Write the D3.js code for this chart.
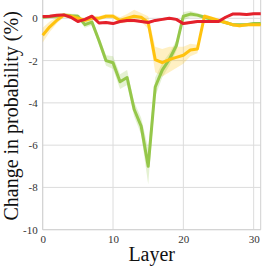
<!DOCTYPE html>
<html><head><meta charset="utf-8">
<script src="https://cdn.jsdelivr.net/npm/d3@7"></script>
<style>html,body{margin:0;padding:0;background:#fff;}svg{display:block;}</style>
</head><body>
<svg id="c" width="266" height="266"></svg>
<script>
const layers = d3.range(0, 32);
const greenVals = [0.05,0.08,0.1,0.15,0.12,0.1,-0.3,-0.18,-1.05,-2.0,-2.1,-3.0,-2.8,-4.3,-5.1,-7.0,-3.25,-2.45,-1.95,-1.3,0.1,0.2,0.15,0.05,-0.05,-0.12,-0.2,-0.3,-0.3,-0.3,-0.25,-0.25];
const greenErr  = [0.1,0.1,0.1,0.1,0.1,0.1,0.15,0.15,0.2,0.25,0.3,0.35,0.35,0.35,0.4,0.85,0.45,0.35,0.3,0.25,0.2,0.15,0.1,0.1,0.08,0.08,0.08,0.08,0.08,0.08,0.08,0.08];
const yellowVals = [-0.8,-0.4,-0.1,0.15,0.1,0.0,-0.1,0.0,0.0,0.1,0.1,-0.1,0.0,0.1,0.05,-0.2,-1.95,-2.1,-1.95,-1.85,-1.75,-1.5,-1.45,0.1,0.0,-0.1,-0.2,-0.3,-0.35,-0.3,-0.3,-0.3];
const yellowErr  = [0.35,0.25,0.15,0.1,0.1,0.1,0.1,0.1,0.1,0.1,0.1,0.15,0.2,0.3,0.2,0.3,0.6,0.65,0.6,0.5,0.4,0.3,0.2,0.1,0.08,0.08,0.08,0.08,0.08,0.08,0.08,0.08];
const redVals = [0.08,0.1,0.14,0.16,0.05,-0.15,-0.05,0.1,-0.22,-0.2,-0.25,-0.15,-0.1,-0.1,-0.15,-0.2,-0.1,-0.05,0.0,-0.05,-0.25,-0.2,-0.15,-0.15,-0.15,-0.15,0.05,0.2,0.2,0.18,0.22,0.22];
const redErr = layers.map(()=>0.06);
const xTicks = [0,10,20,30];
const yTicks = [0,-2,-4,-6,-8,-10];

const series = [
  {vals: greenVals, err: greenErr, color: "#95c74a"},
  {vals: yellowVals, err: yellowErr, color: "#ffc20e"},
  {vals: redVals, err: redErr, color: "#e4212b"}
];

const W = 266, H = 266;
const m = {left: 42.7, right: 5.3, top: 0, bottom: 36.3};
const svg = d3.select("#c");
const x = d3.scaleLinear().domain([0, 31]).range([m.left, W - m.right]);
const y = d3.scaleLinear().domain([-10, 0.866]).range([H - m.bottom, m.top]);

// grid
const g = svg.append("g");
g.selectAll(".gx").data(xTicks).join("line")
  .attr("x1", d => x(d)).attr("x2", d => x(d)).attr("y1", y(-10)).attr("y2", 0)
  .attr("stroke", "#dcdcdc").attr("stroke-width", 1);
g.selectAll(".gy").data(yTicks).join("line")
  .attr("y1", d => y(d)).attr("y2", d => y(d)).attr("x1", x(0)).attr("x2", x(31))
  .attr("stroke", "#dcdcdc").attr("stroke-width", 1);
// frame
svg.append("line").attr("x1", x(0)).attr("x2", x(0)).attr("y1", 0).attr("y2", y(-10)).attr("stroke", "#d0d0d0");
svg.append("line").attr("x1", x(31)).attr("x2", x(31)).attr("y1", 0).attr("y2", y(-10)).attr("stroke", "#d0d0d0");
svg.append("line").attr("x1", x(0)).attr("x2", x(31)).attr("y1", y(-10)).attr("y2", y(-10)).attr("stroke", "#d0d0d0");

// bands
const area = d3.area().x((d, i) => x(layers[i])).y0(d => y(d[0] - d[1])).y1(d => y(d[0] + d[1]));
const line = d3.line().x((d, i) => x(layers[i])).y(d => y(d));
series.forEach(s => {
  svg.append("path").datum(s.vals.map((v, i) => [v, s.err[i]]))
    .attr("d", area).attr("fill", s.color).attr("fill-opacity", 0.25).attr("stroke", "none");
});
series.forEach(s => {
  svg.append("path").datum(s.vals).attr("d", line)
    .attr("fill", "none").attr("stroke", s.color).attr("stroke-width", 3)
    .attr("stroke-linejoin", "round");
});

// ticks
const font = "'Liberation Serif', 'DejaVu Serif', serif";
const xAxis = d3.axisBottom(x).tickValues(xTicks).tickSize(0).tickPadding(6);
const xa = svg.append("g").attr("transform", `translate(0,${y(-10)})`).call(xAxis);
xa.select(".domain").remove();
xa.selectAll("text").attr("font-family", font).attr("font-size", 11).attr("fill", "#333");
const yAxis = d3.axisLeft(y).tickValues(yTicks).tickSize(0).tickPadding(5).tickFormat(d => d);
const ya = svg.append("g").attr("transform", `translate(${x(0)},0)`).call(yAxis);
ya.select(".domain").remove();
ya.selectAll("text").attr("font-family", font).attr("font-size", 11).attr("fill", "#333");

svg.append("text").attr("x", (x(0) + x(31)) / 2).attr("y", 261)
  .attr("text-anchor", "middle").attr("font-family", font).attr("font-size", 20).attr("fill", "#111")
  .text("Layer");
svg.append("text").attr("transform", `translate(18,${y(-10)/2 + 1}) rotate(-90)`)
  .attr("text-anchor", "middle").attr("font-family", font).attr("font-size", 20).attr("fill", "#111")
  .text("Change in probability (%)");
</script>
</body></html>
